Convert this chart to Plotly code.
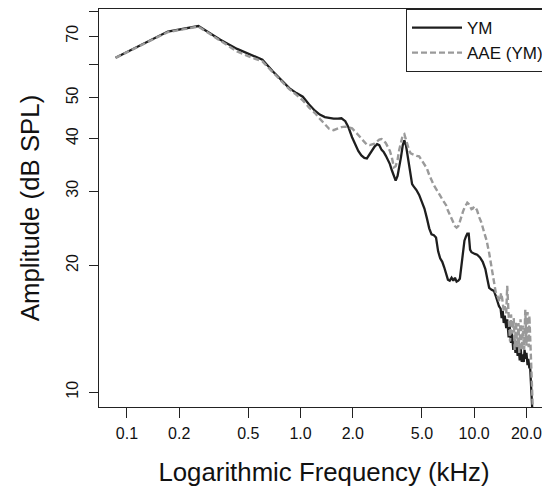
import plotly.graph_objects as go

# YM response (kHz, dB SPL)
ym_freq = [0.086, 0.172, 0.258, 0.345, 0.431, 0.517, 0.603, 0.689, 0.775, 0.861,
           0.947, 1.03, 1.12, 1.21, 1.29, 1.38, 1.46, 1.55, 1.64, 1.72,
           1.81, 1.89, 1.98, 2.07, 2.15, 2.24, 2.33, 2.41, 2.50, 2.58,
           2.67, 2.76, 2.84, 2.93, 3.01, 3.10, 3.19, 3.27, 3.36, 3.45,
           3.53, 3.62, 3.70, 3.79, 3.88, 3.96, 4.05, 4.13, 4.22, 4.31,
           4.39, 4.48, 4.65, 4.82, 5.00, 5.17, 5.34, 5.51, 5.68, 5.86,
           6.03, 6.20, 6.37, 6.55, 6.72, 6.89, 7.06, 7.23, 7.41, 7.58,
           7.75, 7.92, 8.10, 8.27, 8.44, 8.61, 8.79, 8.96, 9.13, 9.30,
           9.47, 9.65, 9.82, 10.1, 10.4, 10.8, 11.2, 11.6, 11.9, 12.2,
           12.6, 13.0, 13.4, 13.9, 14.2, 14.4, 14.6, 14.8, 15.0, 15.3,
           15.5, 15.8, 16.0, 16.3, 16.5, 16.8, 17.0, 17.3, 17.5, 17.8,
           18.0, 18.3, 18.5, 18.8, 19.0, 19.3, 19.5, 19.8, 20.0, 20.3,
           20.5, 20.8, 21.0, 21.2, 21.4, 21.6, 21.8]
ym_db = [62.2, 71.8, 74.0, 68.7, 65.3, 63.2, 61.6, 57.9, 55.2, 52.7,
         51.3, 50.3, 48.2, 46.6, 45.6, 45.0, 44.8, 44.6, 44.6, 44.7,
         44.0, 42.5, 40.3, 38.6, 37.4, 36.5, 36.0, 35.9, 36.7, 37.6,
         38.3, 38.8, 38.6, 37.6, 37.2, 36.4, 35.6, 34.8, 33.6, 32.4,
         31.8, 32.6, 34.0, 36.2, 38.6, 39.6, 38.5, 36.5, 34.8, 32.8,
         31.2, 30.8, 30.2, 29.4, 28.3, 27.3, 25.9, 24.5, 23.7, 23.6,
         23.3, 21.6, 20.8, 20.4, 19.8, 19.2, 18.5, 18.4, 18.7, 18.4,
         18.7, 18.3, 18.4, 18.6, 19.8, 21.5, 22.9, 23.4, 23.8, 23.8,
         21.8, 21.5, 21.4, 21.3, 21.2, 20.9, 20.4, 19.6, 18.6, 17.7,
         17.5, 17.4, 16.8, 16.0, 15.8, 15.0, 15.6, 14.6, 15.2, 14.2,
         14.9, 13.5, 14.4, 13.1, 13.8, 12.6, 13.4, 12.4, 13.2, 12.2,
         12.9, 11.9, 12.8, 11.8, 12.3, 11.8, 12.6, 12.0, 12.4, 11.6,
         12.0, 11.4, 11.5, 10.8, 10.2, 9.3, 8.5]

# AAE (YM) response
aae_freq = [0.086, 0.172, 0.258, 0.345, 0.431, 0.517, 0.603, 0.689, 0.775, 0.861,
            0.947, 1.03, 1.12, 1.21, 1.29, 1.38, 1.46, 1.55, 1.64, 1.72,
            1.81, 1.89, 1.98, 2.07, 2.15, 2.24, 2.33, 2.41, 2.50, 2.58,
            2.67, 2.76, 2.84, 2.93, 3.01, 3.10, 3.19, 3.27, 3.36, 3.45,
            3.53, 3.62, 3.70, 3.79, 3.88, 3.96, 4.05, 4.13, 4.22, 4.31,
            4.48, 4.65, 4.82, 5.00, 5.17, 5.34, 5.51, 5.68, 5.86, 6.03,
            6.20, 6.37, 6.55, 6.72, 6.89, 7.06, 7.23, 7.41, 7.58, 7.75,
            7.92, 8.10, 8.27, 8.44, 8.61, 8.79, 8.96, 9.13, 9.30, 9.47,
            9.65, 9.82, 9.99, 10.2, 10.4, 10.7, 11.0, 11.4, 11.8, 12.2,
            12.5, 12.9, 13.3, 13.7, 14.0, 14.3, 14.5, 14.8, 15.0, 15.3,
            15.5, 15.8, 16.1, 16.3, 16.6, 16.9, 17.1, 17.4, 17.7, 18.0,
            18.2, 18.5, 18.8, 19.1, 19.4, 19.7, 20.0, 20.3, 20.6, 20.8,
            21.1, 21.3, 21.5, 21.7, 21.9]
aae_db = [62.2, 71.6, 73.8, 68.4, 64.4, 62.4, 61.0, 57.6, 54.8, 52.4,
          50.8, 49.3, 47.4, 46.0, 44.6, 43.3, 42.2, 41.9, 42.3, 42.6,
          42.7, 42.6, 42.3, 41.6, 40.8, 40.0, 39.2, 38.7, 38.6, 38.7,
          38.9, 39.4, 39.8, 39.9, 39.6, 39.0, 38.2, 37.4, 36.0, 34.2,
          34.4, 35.6, 37.6, 39.4, 40.8, 41.0, 39.8, 38.4, 37.5, 36.9,
          36.6, 36.4, 36.3, 35.4, 34.8, 34.0, 32.8, 31.8, 31.0, 30.4,
          29.9, 29.3, 28.7, 28.3, 27.8, 27.0, 26.4, 25.8, 25.2, 24.8,
          24.6, 24.8, 25.4, 26.2, 26.8, 27.4, 27.9, 28.2, 28.0, 27.5,
          27.2, 27.3, 27.6, 27.4, 27.0, 26.0, 25.3, 24.0, 22.9, 21.4,
          20.0, 18.4, 17.3, 16.8, 16.4, 17.2, 16.7, 15.6, 16.0, 15.4,
          17.9, 15.2, 13.2, 15.3, 13.8, 15.0, 12.6, 14.7, 12.8, 14.6,
          12.4, 14.9, 12.6, 14.4, 12.6, 15.7, 12.9, 15.5, 12.8, 15.2,
          12.6, 11.4, 10.4, 9.3, 8.5]

x_ticks = [0.1, 0.2, 0.5, 1, 2, 5, 10, 20]
x_labels = ["0.1", "0.2", "0.5", "1.0", "2.0", "5.0", "10.0", "20.0"]
y_ticks = [10, 20, 30, 40, 50, 60, 70, 80]
y_labels = ["10", "20", "30", "40", "50", "", "70", ""]

FONT = "Liberation Sans, Arial, Helvetica, sans-serif"

fig = go.Figure()
fig.add_trace(go.Scatter(
    x=ym_freq, y=ym_db, mode="lines", name="YM",
    line=dict(color="#1e1e1e", width=2.3),
))
fig.add_trace(go.Scatter(
    x=aae_freq, y=aae_db, mode="lines", name="AAE (YM)",
    line=dict(color="#9a9a9a", width=2.4, dash="6px,3px"),
))

axis_common = dict(
    showgrid=False, zeroline=False, showline=True, linecolor="#222",
    linewidth=1, mirror=True, ticks="outside", tickcolor="#222",
    automargin=False,
    tickfont=dict(family=FONT, size=16, color="#111"),
)

# page body keeps an 8px margin, so the figure is a bit smaller than the window
fig.update_layout(
    width=542, height=478,
    margin=dict(l=91, r=1, t=1, b=79),
    plot_bgcolor="white", paper_bgcolor="white",
    font=dict(family=FONT, color="#111"),
    showlegend=True,
    legend=dict(
        x=1, y=1, xanchor="right", yanchor="top",
        bordercolor="#222", borderwidth=1, bgcolor="white",
        itemwidth=50,
        font=dict(family=FONT, size=17, color="#111"),
    ),
    xaxis=dict(
        type="log", range=[-1.161, 1.431],
        tickvals=x_ticks, ticktext=x_labels, ticklen=10, ticklabelstandoff=2,
        title=dict(text="Logarithmic Frequency (kHz)",
                   font=dict(family=FONT, size=25.8, color="#111"), standoff=25),
        **axis_common,
    ),
    yaxis=dict(
        type="log", range=[0.965, 1.9097],
        tickvals=y_ticks, ticktext=y_labels, ticklen=9, tickangle=-90,
        ticklabelstandoff=5,
        title=dict(text="Amplitude (dB SPL)",
                   font=dict(family=FONT, size=25.8, color="#111"), standoff=16),
        **axis_common,
    ),
)

fig.write_html("out.html")
